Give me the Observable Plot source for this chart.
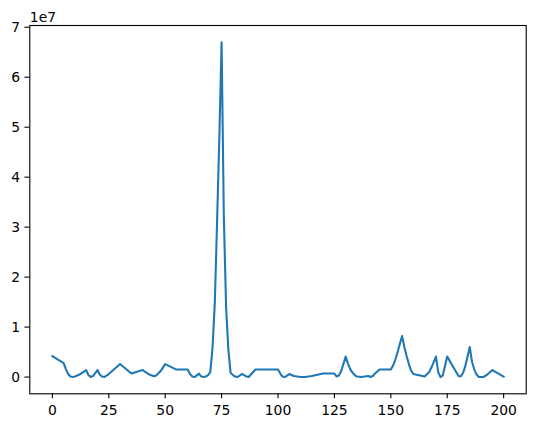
<!DOCTYPE html>
<html>
<head>
<meta charset="utf-8">
<script src="https://cdn.jsdelivr.net/npm/d3@7"></script>
<script src="https://cdn.jsdelivr.net/npm/@observablehq/plot@0.6"></script>
<style>
  html, body { margin: 0; padding: 0; background: #fff; }
  #chart svg { display: block; }
</style>
</head>
<body>
<div id="chart"></div>
<script>
const xValues = [0,5,6,7,8,9,10,12,15,16,17,18,20,21,22,23,25,30,35,40,43,45,46,48,50,55,60,61,62,63,65,66,67,68,69,70,71,72,73,74,75,76,77,78,79,80,81,82,84,85,86,87,88,90,100,101,102,103,105,107,110,112,115,118,120,125,126,127,128,130,131,132,133,134,135,137,140,141,142,143,145,150,151,152,153,155,156,157,158,159,160,165,167,168,170,171,172,173,175,177,180,181,182,183,185,186,187,188,189,191,193,195,200];
const yValues = [4.2e6,2.8e6,1.6e6,0.6e6,0.1e6,0,0.1e6,0.5e6,1.4e6,0.4e6,0,0.2e6,1.4e6,0.5e6,0.1e6,0,0.6e6,2.6e6,0.7e6,1.4e6,0.5e6,0.15e6,0.3e6,1.2e6,2.6e6,1.5e6,1.5e6,0.6e6,0.1e6,0,0.7e6,0.1e6,0,0.1e6,0.4e6,1.0e6,6e6,15e6,31e6,48e6,67e6,32e6,14e6,5.5e6,0.8e6,0.4e6,0.1e6,0,0.6e6,0.4e6,0.1e6,0,0.5e6,1.5e6,1.5e6,0.7e6,0.1e6,0,0.6e6,0.2e6,0,0,0.2e6,0.5e6,0.7e6,0.7e6,0.1e6,0.3e6,1.2e6,4.1e6,2.7e6,1.6e6,0.9e6,0.4e6,0.1e6,0,0.2e6,0,0.2e6,0.7e6,1.5e6,1.5e6,2.3e6,3.5e6,5e6,8.2e6,6e6,4.2e6,2.6e6,1.3e6,0.6e6,0.1e6,1.0e6,1.9e6,4.1e6,1.0e6,0,0.3e6,4.1e6,2.5e6,0.2e6,0.1e6,0.8e6,2.2e6,6e6,3e6,1.5e6,0.5e6,0,0,0.6e6,1.4e6,0.1e6];
const xTicks = [0,25,50,75,100,125,150,175,200];
const yTicks = [0,1e7,2e7,3e7,4e7,5e7,6e7,7e7];
const offsetLabel = ["1e7"];

const data = xValues.map((x, i) => ({x, y: yValues[i]}));

const chart = Plot.plot({
  width: 534,
  height: 428,
  marginLeft: 29.3,
  marginRight: 8.3,
  marginTop: 25,
  marginBottom: 34.7,
  style: {fontFamily: "DejaVu Sans", fontSize: "13.9px", color: "#000", background: "#fff"},
  x: {domain: [-10, 210], insetLeft: 0, insetRight: 0},
  y: {domain: [-3.35e6, 7.035e7], insetTop: 0, insetBottom: 0},
  marks: [
    Plot.line(data, {x: "x", y: "y", stroke: "#1f77b4", strokeWidth: 2.08, strokeLinejoin: "round", strokeLinecap: "square"}),
    Plot.frame({stroke: "#000", strokeWidth: 1.1}),
    Plot.axisX({ticks: xTicks, tickSize: 4.9, tickPadding: 6.2, label: null, tickFormat: d => String(d), strokeWidth: 1.1}),
    Plot.axisY({ticks: yTicks, tickSize: 4.9, tickPadding: 4.9, label: null, tickFormat: d => String(d / 1e7), strokeWidth: 1.1}),
    Plot.text(offsetLabel, {text: d => d, frameAnchor: "top-left", textAnchor: "start", lineAnchor: "bottom", dy: -3.5, fontSize: 13.9, fill: "#000"})
  ]
});
document.getElementById("chart").appendChild(chart);
</script>
</body>
</html>
